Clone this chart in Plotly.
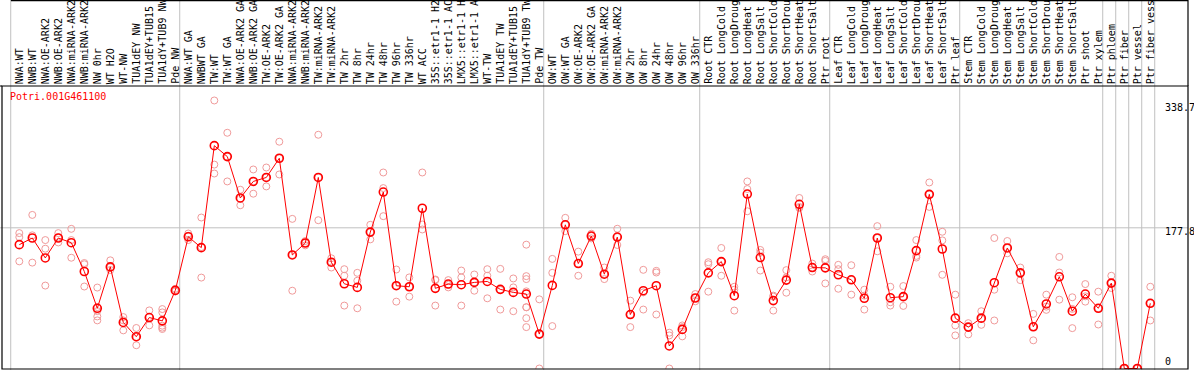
import plotly.graph_objects as go

labels = [
    "NWA:WT", "NWB:WT", "NWA:OE-ARK2", "NWB:OE-ARK2", "NWA:miRNA-ARK2", "NWB:miRNA-ARK2",
    "NW 0hr", "WT H2O", "WT-NW", "TUA1dEY NW", "TUA1dEY+TUB15", "TUA1dY+TUB9 NW", "Pde NW",
    "NWA:WT GA", "NWBWT GA", "TW:WT", "TW:WT GA", "NWA:OE-ARK2 GA", "NWB:OE-ARK2 GA",
    "TW:OE-ARK2", "TW:OE-ARK2 GA", "NWA:miRNA-ARK2", "NWB:miRNA-ARK2", "TW:miRNA-ARK2",
    "TW:miRNA-ARK2", "TW 2hr", "TW 8hr", "TW 24hr", "TW 48hr", "TW 96hr", "TW 336hr",
    "WT ACC", "35S::etr1-1 H2", "35S::etr1-1 AC", "LMX5::etr1-1 H", "LMX5::etr1-1 A",
    "WT-TW", "TUA1dEY TW", "TUA1dEY+TUB15", "TUA1dY+TUB9 TW", "Pde TW",
    "OW:WT", "OW:WT GA", "OW:OE-ARK2", "OW:OE-ARK2 GA", "OW:miRNA-ARK2", "OW:miRNA-ARK2",
    "OW 2hr", "OW 8hr", "OW 24hr", "OW 48hr", "OW 96hr", "OW 336hr",
    "Root CTR", "Root LongCold", "Root LongDroug", "Root LongHeat", "Root LongSalt",
    "Root ShortCold", "Root ShortDrou", "Root ShortHeat", "Root ShortSalt", "Ptr root",
    "Leaf CTR", "Leaf LongCold", "Leaf LongDroug", "Leaf LongHeat", "Leaf LongSalt",
    "Leaf ShortCold", "Leaf ShortDrou", "Leaf ShortHeat", "Leaf ShortSalt", "Ptr leaf",
    "Stem CTR", "Stem LongCold", "Stem LongDroug", "Stem LongHeat", "Stem LongSalt",
    "Stem ShortCold", "Stem ShortDrou", "Stem ShortHeat", "Stem ShortSalt", "Ptr shoot",
    "Ptr xylem", "Ptr phloem", "Ptr fiber", "Ptr vessel", "Ptr fiber vess",
]

means = [
    156.5, 164.9, 139.7, 164.9, 159.0, 122.6, 76.1, 128.4, 58.2, 40.2, 64.4, 60.2, 98.7,
    166.5, 152.7, 281.6, 267.8, 215.5, 236.4, 241.4, 265.7, 143.5, 158.6, 241.4, 134.3,
    107.1, 102.5, 172.4, 223.0, 104.6, 103.3, 202.5, 101.3, 106.7, 105.9, 108.8, 110.0,
    100.0, 96.2, 94.1, 43.5,
    105.0, 181.6, 132.6, 167.4, 119.2, 166.1, 68.2, 98.3, 104.6, 28.5, 49.4, 89.1,
    120.9, 135.1, 92.0, 220.5, 140.2, 85.8, 111.7, 207.5, 127.6, 127.2,
    118.4, 112.1, 88.7, 164.9, 89.5, 90.8, 149.0, 220.1, 151.0, 63.6,
    52.3, 63.6, 108.4, 152.3, 120.9, 52.7, 81.6, 115.9, 72.4, 94.1, 76.1,
    107.9, 0.0, 0.0, 82.4,
]

replicates = [
    [171.1, 166.0, 135.4], [194.1, 168.3, 133.8], [162.3, 151.4, 104.8], [171.1, 165.6, 159.3],
    [176.5, 162.3, 140.0], [133.3, 131.7, 103.6], [102.3, 77.6, 72.5, 65.8, 60.8],
    [136.7, 127.9, 124.5], [65.0, 60.8, 48.2], [51.2, 39.8, 29.4], [73.4, 65.0, 54.5],
    [75.1, 70.9, 54.1, 51.6, 49.9], [100.6, 99.0, 97.3],
    [170.6, 167.7, 162.3], [190.8, 153.5, 114.9], [338.7, 257.7, 246.4], [297.9, 267.8, 236.4],
    [225.9, 214.6, 206.3], [251.5, 236.4, 220.9], [254.0, 241.4, 230.1], [286.6, 265.7, 245.2],
    [189.1, 143.5, 98.3], [161.1, 158.6, 155.6], [295.4, 241.4, 187.4], [139.3, 134.3, 127.6],
    [125.5, 117.2, 79.5], [120.9, 110.9, 76.1], [181.6, 172.4, 163.2], [247.7, 228.0, 192.5],
    [125.1, 104.6, 84.5], [115.1, 103.3, 90.8], [247.7, 182.0, 175.7], [112.5, 111.7, 79.5],
    [111.7, 105.9, 102.5], [123.8, 115.1, 79.5], [118.8, 108.8, 98.3], [125.5, 117.2, 88.7],
    [125.9, 99.2, 74.5], [113.8, 102.5, 72.4],
    [156.5, 116.7, 113.0, 97.5, 77.4, 77.4, 63.6, 52.3], [87.4, 43.5, 0.0],
    [138.5, 120.9, 53.6], [190.4, 181.6, 173.6], [147.7, 132.6, 117.2], [170.3, 167.4, 164.4],
    [127.6, 119.2, 113.0], [176.6, 166.1, 156.1], [85.8, 68.2, 52.3], [124.7, 96.2, 74.5],
    [123.4, 121.3, 68.2], [45.2, 41.8, 0.0], [54.4, 52.3, 40.6], [94.1, 89.1, 84.9],
    [134.3, 131.8, 97.1], [152.3, 135.1, 117.2], [103.3, 99.6, 73.2], [236.4, 226.8, 198.7],
    [149.8, 146.4, 123.8], [92.1, 90.8, 73.2], [124.3, 115.1, 95.8], [215.5, 204.2, 202.9],
    [132.6, 127.6, 122.6], [138.1, 136.0, 107.5],
    [131.0, 125.5, 100.8], [130.5, 112.1, 93.3], [99.6, 92.1, 74.5], [179.9, 164.9, 148.1],
    [103.3, 83.7, 79.5], [104.2, 90.8, 79.1], [162.3, 142.3, 140.2], [235.1, 220.1, 204.2],
    [172.8, 161.9, 118.4], [93.3, 54.4, 41.8],
    [57.3, 52.3, 43.1], [72.4, 62.8, 55.2], [164.9, 99.6, 60.7], [161.1, 152.3, 145.6],
    [127.6, 120.9, 111.7], [69.0, 52.7, 35.6], [93.3, 78.2, 74.1], [141.0, 121.3, 87.0],
    [90.0, 75.3, 51.0], [106.7, 91.2, 84.5], [97.1, 76.1, 55.6],
    [117.2, 107.9, 101.7], [0.0, 0.0, 0.0], [0.0, 0.0, 0.0], [103.3, 82.4, 60.7],
]

# first category index of each group (gray separators drawn before these)
group_starts = [1, 14, 42, 54, 64, 74, 85, 86, 87, 88, 89]
gene_id = "Potri.001G461100"
axis_labels = [338.7, 177.8, 0]
ref_line = 177.8

Y_RANGE = [-0.63, 357.0]

xs = list(range(1, len(labels) + 1))
rep_x, rep_y = [], []
for i, vals in zip(xs, replicates):
    for v in vals:
        rep_x.append(i)
        rep_y.append(v)

MONO = "DejaVu Sans Mono"
fig = go.Figure()
fig.add_trace(go.Scatter(
    x=rep_x, y=rep_y, mode="markers",
    marker=dict(symbol="circle-open", size=7, color="#f09a9a", line=dict(width=1, color="#f09a9a")),
    hoverinfo="skip", showlegend=False,
))
fig.add_trace(go.Scatter(
    x=xs, y=means, mode="lines+markers",
    line=dict(color="#ff0000", width=1),
    marker=dict(symbol="circle-open", size=8, color="#ff0000", line=dict(width=1.6, color="#ff0000")),
    showlegend=False,
))

shapes = []
for g in group_starts:
    shapes.append(dict(type="line", xref="x", yref="paper", x0=g - 0.66, x1=g - 0.66,
                       y0=-0.01, y1=1.32, line=dict(color="#c0c0c0", width=1), layer="below"))
shapes.append(dict(type="line", xref="paper", yref="y", x0=-0.002, x1=1, y0=ref_line, y1=ref_line,
                   line=dict(color="#c0c0c0", width=1), layer="below"))
# frames
shapes.append(dict(type="rect", xref="paper", yref="paper", x0=0, x1=1, y0=0, y1=1,
                   line=dict(color="black", width=1.2)))
shapes.append(dict(type="line", xref="paper", yref="paper", x0=0.0075, x1=1, y0=1.3021, y1=1.3021,
                   line=dict(color="black", width=1.5)))
shapes.append(dict(type="line", xref="paper", yref="paper", x0=1, x1=1, y0=1, y1=1.31,
                   line=dict(color="black", width=1.2)))
shapes.append(dict(type="line", xref="paper", yref="paper", x0=-0.01, x1=0, y0=1, y1=1,
                   line=dict(color="black", width=1.2)))

annotations = []
for i, lab in zip(xs, labels):
    annotations.append(dict(x=i, y=1, xref="x", yref="paper", text=lab, textangle=-90,
                            showarrow=False, xanchor="center", yanchor="bottom", yshift=1,
                            borderpad=0, font=dict(family=MONO, size=10, color="black")))
annotations.append(dict(x=0.0062, y=0.9636, xref="paper", yref="paper", text=gene_id,
                        showarrow=False, xanchor="left", yanchor="middle", borderpad=0,
                        font=dict(family=MONO, size=10, color="#ff0000")))
shifts = {338.7: -7, 177.8: -4, 0: 7.5}
for v in axis_labels:
    py = (v - Y_RANGE[0]) / (Y_RANGE[1] - Y_RANGE[0])
    annotations.append(dict(x=0.9798, y=py, xref="paper", yref="paper", text=str(v), showarrow=False,
                            xanchor="left", yanchor="middle", yshift=shifts[v], borderpad=0,
                            font=dict(family=MONO, size=10, color="black")))

fig.update_layout(
    width=1194, height=370,
    margin=dict(l=2, r=6, t=86, b=1, pad=0),
    paper_bgcolor="white", plot_bgcolor="rgba(0,0,0,0)",
    xaxis=dict(range=[-0.331, 90.9], visible=False, showgrid=False, zeroline=False),
    yaxis=dict(range=Y_RANGE, visible=False, showgrid=False, zeroline=False),
    shapes=shapes, annotations=annotations,
)
fig.write_html(
    "out.html",
    config={"displayModeBar": False},
    post_script="document.body.style.margin='0';document.body.style.overflow='hidden';",
)
